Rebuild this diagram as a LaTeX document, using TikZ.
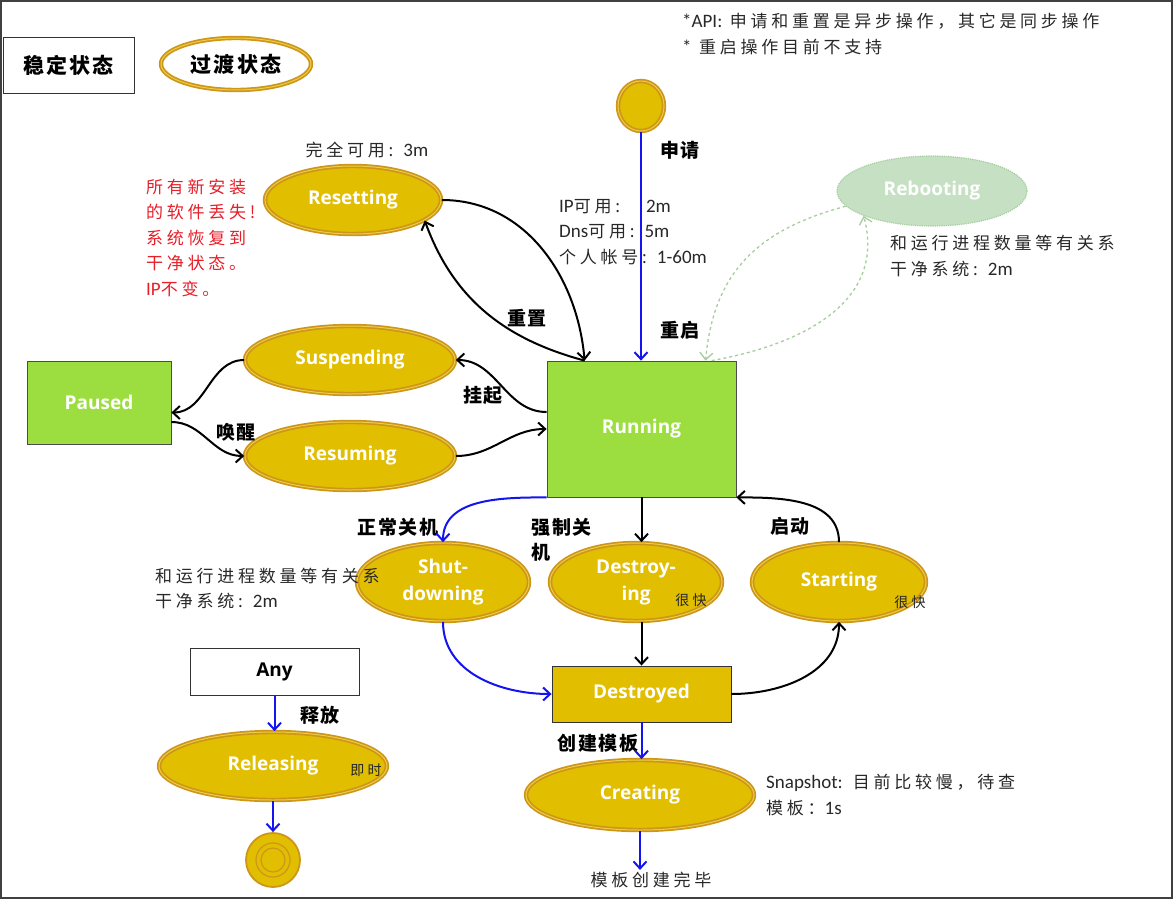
\documentclass[tikz,border=0pt]{standalone}
\usepackage{fontspec}
\setmainfont{Open Sans}
\newfontfamily\cjkn[LetterSpace=22]{Noto Sans CJK SC}
\newfontfamily\cjkl[LetterSpace=10]{Noto Sans CJK SC}
\newfontfamily\ltnf{Carlito}
\usetikzlibrary{shapes.geometric,arrows.meta}
\definecolor{gold}{RGB}{226,190,0}
\definecolor{goldline}{RGB}{205,150,25}
\definecolor{goldlight}{RGB}{236,204,70}
\definecolor{rungreen}{RGB}{156,222,64}
\definecolor{arrblue}{RGB}{20,20,240}
\definecolor{rebfill}{RGB}{198,224,196}
\definecolor{rebline}{RGB}{165,205,158}
\definecolor{notered}{RGB}{230,30,40}
\definecolor{notegray}{RGB}{40,40,40}
\newcommand\enb{\fontsize{19}{27}\selectfont\bfseries}
\newcommand\labf{\cjkl\bfseries\fontsize{19}{25}\selectfont}
\newcommand\ntf{\cjkn\fontsize{17}{25.5}\selectfont}
\newcommand\smf{\cjkn\fontsize{14}{16}\selectfont}
\newcommand\ltn[1]{{\ltnf\fontsize{19}{25.5}\selectfont #1}}
\tikzset{
  trans/.style={ellipse, fill=gold, draw=goldline, double=goldlight, double distance=1pt,
    line width=1.7pt, inner sep=0pt, text=white, font=\enb, align=center},
  stable/.style={rectangle, fill=rungreen, draw=black!70, line width=0.8pt, inner sep=0pt,
    text=white, font=\enb},
  barr/.style={-{Straight Barb[length=7pt,width=13pt]}, line width=2pt, draw=black},
  blarr/.style={barr, draw=arrblue},
  garr/.style={-{Straight Barb[length=7pt,width=13pt]}, line width=1.3pt, draw=rebline, dashed},
  lab/.style={font=\labf, text=black, inner sep=0pt},
  note/.style={font=\ntf, text=notegray, anchor=west, align=left, inner sep=0pt},
  small/.style={font=\smf, text=black!85, inner sep=0pt},
}
\begin{document}
\begin{tikzpicture}[x=1pt,y=1pt]
\useasboundingbox (0,0) rectangle (1174,-900);
\draw[black!75, line width=1.2pt] (1,-1) rectangle (1172,-898);

% legend
\node[rectangle, draw=black!80, line width=1pt, minimum width=131pt, minimum height=56pt,
  font=\labf\fontsize{21}{24}\selectfont] (leg1) at (68.5,-65) {稳定状态};
\node[ellipse, fill=white, draw=goldline, double=goldlight, double distance=1pt, line width=1.7pt,
  minimum width=150pt, minimum height=52pt, inner sep=0pt,
  font=\labf\fontsize{21}{24}\selectfont] (leg2) at (236,-64) {过渡状态};

% top notes
\node[note] (api) at (682,-21) {\ltn{*API:} 申请和重置是异步操作，其它是同步操作};
\node[note] (rbn) at (682,-47) {\ltn{*} 重启操作目前不支持};

% start
\node[trans, minimum width=46pt, minimum height=50pt] (start) at (641,-106) {};

% states
\node[stable, minimum width=189pt, minimum height=136pt] (running) at (641.5,-429) {Running};
\node[stable, minimum width=144pt, minimum height=83pt] (paused) at (99,-402.5) {Paused};
\node[trans, minimum width=176pt, minimum height=68pt] (resetting) at (353,-200) {Resetting};
\node[ellipse, fill=rebfill, draw=rebline, densely dotted, line width=1.2pt, inner sep=0pt,
  text=white, font=\enb, minimum width=190pt, minimum height=70pt] (rebooting) at (932,-191) {Rebooting};
\node[trans, minimum width=210pt, minimum height=68pt] (suspending) at (350,-360) {Suspending};
\node[trans, minimum width=210pt, minimum height=68pt] (resuming) at (350,-456) {Resuming};
\node[trans, minimum width=172pt, minimum height=78pt] (shut) at (443,-582) {Shut-\\downing};
\node[trans, minimum width=172pt, minimum height=78pt] (destroying) at (636,-582) {Destroy-\\ing};
\node[trans, minimum width=174pt, minimum height=78pt] (starting) at (839,-582) {Starting};
\node[rectangle, fill=gold, draw=black!80, line width=0.9pt, text=white, font=\enb,
  minimum width=179pt, minimum height=56pt, inner sep=0pt] (destroyed) at (641.5,-694) {Destroyed};
\node[trans, minimum width=228pt, minimum height=70pt] (creating) at (640,-795) {Creating};
\node[rectangle, fill=white, draw=black!80, line width=0.9pt, text=black, font=\enb,
  minimum width=169pt, minimum height=47pt, inner sep=0pt] (any) at (274.5,-671.5) {Any};
\node[trans, minimum width=228pt, minimum height=68pt] (releasing) at (273,-766) {Releasing};
\node[circle, fill=gold, draw=goldline, line width=1.8pt, minimum size=54pt, inner sep=0pt] (end) at (273,-860) {};
\draw[goldline, line width=1.2pt] (end.center) circle (17pt);
\draw[goldline, line width=1.2pt] (end.center) circle (12pt);

% small side notes
\node[small] (kuai1) at (691,-600) {很快};
\node[small] (kuai2) at (910,-602) {很快};
\node[small] (jishi) at (366,-770) {即时};

% notes
\node[font=\ntf, text=notegray, inner sep=0pt] (full) at (367,-150) {完全可用: \ltn{3m}};
\node[note, text=notered] (red) at (146,-238) {所有新安装\\的软件丢失!\\系统恢复到\\干净状态。\\\ltn{IP}不变。};
\node[note] (ipn) at (559,-232) {\ltn{IP}可用:\hspace{26pt}\ltn{2m}\\\ltn{Dns}可用: \ltn{5m}\\个人帐号: \ltn{1-60m}};
\node[note] (rbnote) at (890,-256) {和运行进程数量等有关系\\干净系统: \ltn{2m}};
\node[note] (shnote) at (155,-588.5) {和运行进程数量等有关系\\干净系统: \ltn{2m}};
\node[note] (snap) at (766,-795) {\ltn{Snapshot:} 目前比较慢，待查\\模板：\ltn{1s}};
\node[font=\ntf, text=notegray, inner sep=0pt] (donetxt) at (651,-880) {模板创建完毕};

% labels
\node[lab] (l1) at (680,-150) {申请};
\node[lab] (l2) at (680,-330) {重启};
\node[lab] (l3) at (527,-318) {重置};
\node[lab] (l4) at (483,-395) {挂起};
\node[lab] (l5) at (236,-432) {唤醒};
\node[lab] (l6) at (398,-527) {正常关机};
\node[lab, anchor=west, align=left] (l7) at (531,-539.5) {强制关\\机};
\node[lab] (l8) at (790,-526) {启动};
\node[lab] (l9) at (598,-743) {创建模板};
\node[lab] (l10) at (320,-715) {释放};

% coordinates on Running top
\coordinate (rA) at ([xshift=38pt]running.north west);
\coordinate (rB) at ([xshift=159pt]running.north west);
\coordinate (rC) at ([xshift=165pt]running.north west);

% connectors
\draw[blarr] (start.south) -- (start.south |- running.north);
\draw[barr] (resetting.east) to[out=0,in=95] (rA);
\draw[barr] (rA) to[out=165,in=-70] (resetting.-16);
\draw[garr] (rebooting.190) to[out=195,in=85, looseness=1.1] (rB);
\draw[garr] (rC) to[out=10,in=-75, looseness=1.1] (rebooting.-160);
\draw[barr] ([yshift=17pt]running.west) to[out=180,in=0] (suspending.east);
\draw[barr] (suspending.west) to[out=180,in=0] ([yshift=-10pt]paused.east);
\draw[barr] ([yshift=-19.5pt]paused.east) to[out=0,in=180] (resuming.west);
\draw[barr] (resuming.east) to[out=0,in=180] (running.west);
\draw[blarr] (running.south west) to[out=180,in=90] (shut.north);
\draw[barr] (running.south) -- (running.south |- destroying.north);
\draw[barr] (starting.north) to[out=90,in=0] (running.south east);
\draw[barr] (destroyed.north |- destroying.south) -- (destroyed.north);
\draw[blarr] (shut.south) to[out=-90,in=180] (destroyed.west);
\draw[barr] (destroyed.east) to[out=0,in=-90] (starting.south);
\draw[blarr] (destroyed.south) -- (destroyed.south |- creating.north);
\draw[blarr] (creating.south) -- ([yshift=2pt]creating.south |- donetxt.north);
\draw[blarr] (any.south) -- (any.south |- releasing.north);
\draw[blarr] (releasing.south) -- (releasing.south |- end.north);
\end{tikzpicture}
\end{document}
